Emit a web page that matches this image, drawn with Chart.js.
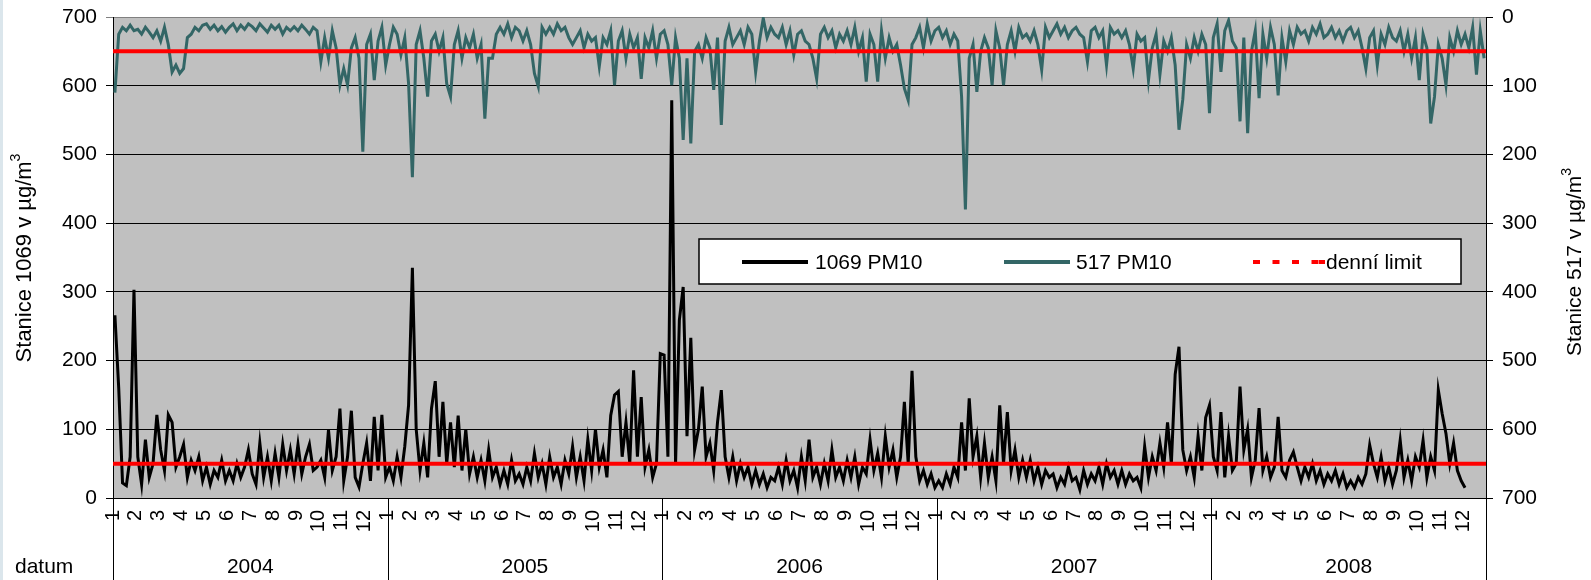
<!DOCTYPE html>
<html>
<head>
<meta charset="utf-8">
<script src="https://cdn.jsdelivr.net/npm/chart.js@4"></script>
<style>
  html, body { margin: 0; padding: 0; background: #fff; }
  canvas { display: block; }
</style>
</head>
<body>
<canvas id="pmChart" width="1591" height="580"></canvas>
<script>
// labels
const months = ['1', '2', '3', '4', '5', '6', '7', '8', '9', '10', '11', '12'];
const years = ['2004', '2005', '2006', '2007', '2008'];
const yTicks = [0, 100, 200, 300, 400, 500, 600, 700];
const limitValue = 50;

// stanice 1069 PM10 (left axis), 6 readings per month
const pm1069_2004 = [
  266, 160, 22, 18, 60, 303,
  60, 20, 85, 30, 50, 121,
  70, 40, 121, 110, 45, 60,
  78, 30, 55, 40, 60, 25,
  45, 20, 40, 30, 55, 25,
  40, 25, 50, 30, 45, 70,
  35, 20, 80, 30, 60, 25,
  65, 30, 78, 40, 70, 35,
  78, 35, 60, 78, 40, 45,
  55, 30, 99, 40, 60, 130,
  25, 60, 127, 30, 16, 50,
  80, 25, 118, 40, 121, 30
];
const pm1069_2005 = [
  45, 25, 60, 30, 75, 135,
  335, 100, 40, 80, 30, 130,
  170, 60, 140, 50, 110, 45,
  120, 40, 100, 35, 60, 30,
  55, 25, 70, 30, 45, 20,
  40, 20, 55, 25, 35, 20,
  45, 25, 65, 30, 50, 20,
  60, 30, 45, 20, 55, 35,
  75, 30, 60, 25, 85, 40,
  100, 45, 70, 30, 120, 150,
  155, 60, 110, 50, 186, 60,
  147, 45, 70, 30, 50, 210
];
const pm1069_2006 = [
  208, 60, 579, 50, 259, 307,
  90, 233, 70, 100, 162, 60,
  80, 40, 110, 157, 60, 30,
  60, 25, 50, 30, 45, 20,
  40, 20, 35, 15, 30, 25,
  45, 20, 55, 25, 40, 15,
  60, 25, 85, 30, 45, 20,
  50, 25, 70, 30, 45, 25,
  55, 30, 60, 20, 45, 35,
  85, 40, 65, 30, 90, 45,
  70, 30, 60, 140, 50, 185,
  60, 25, 40, 20, 35, 15
];
const pm1069_2007 = [
  25, 15, 35, 20, 45, 30,
  110, 40, 145, 60, 90, 30,
  80, 30, 60, 25, 135, 50,
  125, 40, 70, 30, 55, 30,
  55, 25, 45, 20, 40, 30,
  35, 15, 30, 20, 45, 25,
  30, 12, 40, 20, 35, 25,
  45, 20, 50, 30, 40, 20,
  40, 20, 35, 25, 30, 15,
  75, 30, 60, 40, 80, 45,
  110, 50, 180, 220, 70, 40,
  60, 30, 90, 40, 117, 135
];
const pm1069_2008 = [
  60, 40, 125, 30, 90, 40,
  50, 162, 70, 100, 30, 55,
  131, 40, 60, 30, 45, 118,
  40, 30, 55, 67, 45, 25,
  45, 30, 50, 25, 40, 20,
  35, 25, 40, 20, 35, 15,
  25, 15, 30, 20, 35, 77,
  50, 30, 60, 25, 45, 20,
  40, 84, 30, 55, 25, 60,
  45, 84, 30, 60, 40, 157,
  123, 94, 50, 80, 40, 25,
  15, null, null, null, null, null
];

// stanice 517 PM10 (right axis, reversed)
const pm517_2004 = [
  110, 25, 15, 20, 12, 20,
  18, 25, 15, 22, 30, 20,
  35, 15, 40, 80, 70, 82,
  75, 30, 25, 15, 20, 12,
  10, 18, 12, 20, 14, 22,
  15, 10, 20, 12, 18, 10,
  14, 20, 10, 16, 22, 12,
  18, 12, 25, 15, 20, 14,
  20, 12, 18, 25, 15, 20,
  65, 30, 60, 20, 45, 99,
  75, 99, 45, 30, 60, 196,
  40, 25, 92, 35, 15, 70
];
const pm517_2005 = [
  40, 15, 25, 55, 30, 97,
  233, 40, 20, 60, 116, 35,
  25, 50, 30, 97, 116, 40,
  20, 60, 30, 45, 25, 60,
  40, 148, 60, 60, 25, 15,
  25, 10, 30, 15, 20, 35,
  20, 40, 82, 101, 15, 25,
  15, 25, 10, 20, 15, 30,
  40, 30, 20, 45, 25, 35,
  30, 72, 30, 40, 20, 99,
  35, 20, 60, 25, 45, 30,
  90, 30, 45, 20, 60, 25
];
const pm517_2006 = [
  20, 40, 99, 30, 60, 179,
  60, 184, 50, 40, 60, 30,
  45, 106, 30, 157, 35, 15,
  40, 30, 20, 40, 15, 25,
  80, 35, 2, 30, 15, 25,
  30, 15, 40, 20, 55, 25,
  20, 35, 40, 60, 90, 25,
  15, 30, 20, 45, 25, 35,
  20, 40, 15, 50, 30, 94,
  25, 40, 94, 20, 60, 30,
  50, 40, 70, 104, 121, 40,
  30, 15, 45, 10, 35, 20
];
const pm517_2007 = [
  15, 30, 20, 40, 25, 35,
  116, 280, 60, 40, 109, 50,
  30, 45, 99, 20, 45, 99,
  40, 20, 50, 15, 30, 25,
  35, 20, 40, 77, 15, 30,
  20, 10, 25, 15, 30, 20,
  15, 25, 30, 65, 20, 15,
  30, 20, 70, 15, 25, 20,
  30, 20, 40, 75, 25, 35,
  30, 92, 45, 25, 84, 35,
  50, 30, 70, 164, 120, 40,
  60, 30, 50, 25, 40, 140
];
const pm517_2008 = [
  30, 10, 80, 20, 5, 35,
  45, 152, 30, 169, 50, 20,
  118, 25, 60, 15, 40, 114,
  30, 65, 20, 40, 15, 25,
  20, 35, 15, 25, 10, 30,
  25, 15, 30, 20, 35, 20,
  15, 30, 20, 45, 75, 30,
  20, 70, 25, 40, 15, 30,
  35, 20, 50, 25, 60, 30,
  92, 25, 45, 155, 116, 40,
  60, 99, 30, 50, 20, 40,
  25, 45, 15, 84, 20, 60
];

const FONT = '"Liberation Sans", Arial, sans-serif';

// x = month index (0..60), 6 readings spread inside each month
function toPoints(yearArrays) {
  const pts = [];
  yearArrays.forEach((arr, yi) => {
    arr.forEach((v, i) => {
      if (v === null) return;
      pts.push({ x: yi * 12 + Math.floor(i / 6) + (i % 6 + 0.5) / 6, y: v });
    });
  });
  return pts;
}

const series1069 = toPoints([pm1069_2004, pm1069_2005, pm1069_2006, pm1069_2007, pm1069_2008]);
const series517 = toPoints([pm517_2004, pm517_2005, pm517_2006, pm517_2007, pm517_2008]);
const xMax = years.length * 12;
const limitLine = [{ x: 0, y: limitValue }, { x: xMax, y: limitValue }];

function axisTitle(ctx, text, cx, cy, size) {
  ctx.save();
  ctx.translate(cx, cy);
  ctx.rotate(-Math.PI / 2);
  ctx.textAlign = 'left';
  ctx.textBaseline = 'middle';
  ctx.font = size + 'px ' + FONT;
  const w = ctx.measureText(text).width;
  ctx.font = Math.round(size * 0.65) + 'px ' + FONT;
  const w2 = ctx.measureText('3').width;
  const start = -(w + w2) / 2;
  ctx.font = size + 'px ' + FONT;
  ctx.fillText(text, start, 0);
  ctx.font = Math.round(size * 0.65) + 'px ' + FONT;
  ctx.fillText('3', start + w, -size * 0.38);
  ctx.restore();
}

const background = {
  id: 'background',
  beforeDraw(chart) {
    const { ctx, chartArea: a } = chart;
    ctx.save();
    ctx.fillStyle = '#ffffff';
    ctx.fillRect(0, 0, chart.width, chart.height);
    ctx.fillStyle = '#dbe6ec';
    ctx.fillRect(0, 0, 3, chart.height);
    ctx.fillStyle = '#c0c0c0';
    ctx.fillRect(a.left, a.top, a.right - a.left, a.bottom - a.top);
    ctx.restore();
  }
};

const extras = {
  id: 'extras',
  afterDraw(chart) {
    const { ctx, chartArea: a, scales } = chart;
    const x = scales.x;
    ctx.save();
    // year separators + labels
    ctx.strokeStyle = '#000';
    ctx.lineWidth = 1;
    for (let i = 0; i <= years.length; i++) {
      const px = Math.round(x.getPixelForValue(i * 12)) + 0.5;
      ctx.beginPath();
      ctx.moveTo(px, a.bottom);
      ctx.lineTo(px, chart.height);
      ctx.stroke();
    }
    ctx.fillStyle = '#000';
    ctx.font = '21px ' + FONT;
    ctx.textBaseline = 'middle';
    ctx.textAlign = 'center';
    years.forEach((yr, i) => {
      ctx.fillText(yr, x.getPixelForValue(i * 12 + 6), 567);
    });
    ctx.textAlign = 'left';
    ctx.fillText('datum', 15, 567);

    // axis titles
    axisTitle(ctx, 'Stanice 1069 v \u00b5g/m', 25, 258, 22);
    axisTitle(ctx, 'Stanice 517 v \u00b5g/m', 1575, 262, 21);

    // legend box
    const lx = 699, ly = 239, lw = 762, lh = 45, my = 262;
    ctx.fillStyle = '#fff';
    ctx.fillRect(lx, ly, lw, lh);
    ctx.strokeStyle = '#000';
    ctx.lineWidth = 1.5;
    ctx.strokeRect(lx, ly, lw, lh);

    ctx.lineWidth = 4;
    ctx.strokeStyle = '#000';
    ctx.beginPath(); ctx.moveTo(742, my); ctx.lineTo(808, my); ctx.stroke();
    ctx.strokeStyle = '#336666';
    ctx.beginPath(); ctx.moveTo(1004, my); ctx.lineTo(1070, my); ctx.stroke();
    ctx.strokeStyle = '#ff0000';
    ctx.setLineDash([7, 12.5]);
    ctx.beginPath(); ctx.moveTo(1253, my); ctx.lineTo(1326, my); ctx.stroke();
    ctx.setLineDash([]);
    ctx.fillStyle = '#ff0000';
    ctx.fillRect(1319, my - 2, 6, 4);

    ctx.fillStyle = '#000';
    ctx.font = '21px ' + FONT;
    ctx.textAlign = 'left';
    ctx.textBaseline = 'middle';
    ctx.fillText('1069 PM10', 815, my + 1);
    ctx.fillText('517 PM10', 1076, my + 1);
    ctx.fillText('denn\u00ed limit', 1326, my + 1);
    ctx.restore();
  }
};

// keep the plot box where the reference has it
function fixVertical(width) {
  return s => {
    s.width = width;
    s.paddingTop = 0;
    s.paddingBottom = 0;
  };
}

new Chart(document.getElementById('pmChart').getContext('2d'), {
  type: 'line',
  data: {
    datasets: [
      {
        label: 'denní limit',
        data: limitLine,
        yAxisID: 'y',
        borderColor: '#ff0000',
        borderWidth: 4,
        pointRadius: 0,
        order: 0
      },
      {
        label: 'denní limit 517',
        data: limitLine,
        yAxisID: 'y2',
        borderColor: '#ff0000',
        borderWidth: 4,
        pointRadius: 0,
        order: 0
      },
      {
        label: '1069 PM10',
        data: series1069,
        yAxisID: 'y',
        borderColor: '#000000',
        borderWidth: 3,
        pointRadius: 0,
        tension: 0,
        order: 1
      },
      {
        label: '517 PM10',
        data: series517,
        yAxisID: 'y2',
        borderColor: '#336666',
        borderWidth: 3,
        pointRadius: 0,
        tension: 0,
        order: 2
      }
    ]
  },
  options: {
    responsive: false,
    animation: false,
    layout: { padding: { top: 17, left: 0, right: 0, bottom: 0 } },
    scales: {
      x: {
        type: 'linear',
        min: 0,
        max: xMax,
        grid: { display: false, drawTicks: false },
        border: { display: true, color: '#000', width: 1 },
        ticks: {
          stepSize: 1,
          autoSkip: false,
          minRotation: 90,
          maxRotation: 90,
          padding: 12,
          color: '#000',
          font: { family: FONT, size: 20 },
          callback: v => (v < xMax ? months[v % 12] : '')
        },
        afterFit: s => { s.height = 82; }
      },
      y: {
        position: 'left',
        min: 0,
        max: 700,
        grid: {
          color: c => (c.tick && c.tick.value === 700 ? '#808080' : '#000'),
          lineWidth: 1,
          tickLength: 7
        },
        border: { display: true, color: '#000', width: 1 },
        ticks: {
          stepSize: 100,
          padding: 9,
          color: '#000',
          font: { family: FONT, size: 21 },
          callback: v => (yTicks.includes(v) ? String(v) : '')
        },
        afterFit: fixVertical(113)
      },
      y2: {
        position: 'right',
        reverse: true,
        min: 0,
        max: 700,
        grid: { drawOnChartArea: false, color: '#000', tickLength: 7 },
        border: { display: true, color: '#000', width: 1 },
        ticks: {
          stepSize: 100,
          padding: 9,
          color: '#000',
          font: { family: FONT, size: 21 },
          callback: v => (yTicks.includes(v) ? String(v) : '')
        },
        afterFit: fixVertical(105)
      }
    },
    plugins: {
      legend: { display: false },
      tooltip: { enabled: false }
    }
  },
  plugins: [background, extras]
});
</script>
</body>
</html>
